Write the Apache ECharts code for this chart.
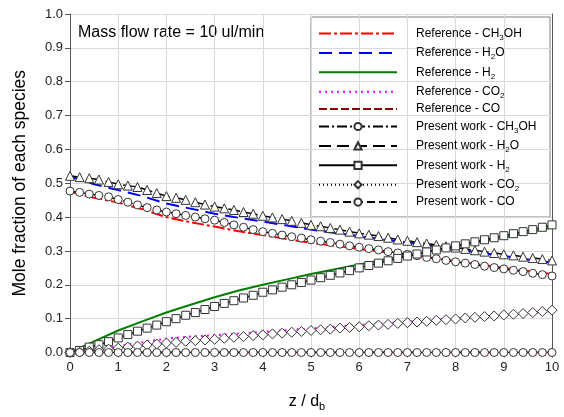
<!DOCTYPE html>
<html>
<head>
<meta charset="utf-8">
<script src="https://cdn.jsdelivr.net/npm/echarts@6/dist/echarts.min.js"></script>
<style>
html,body{margin:0;padding:0;background:#fff;}
#chart{width:564px;height:417px;}
</style>
</head>
<body>
<div id="chart"></div>
<script>
// ---------- data ----------
var X_TICKS = [0,1,2,3,4,5,6,7,8,9,10];
var Y_TICKS = [0.0,0.1,0.2,0.3,0.4,0.5,0.6,0.7,0.8,0.9,1.0];

var X_REF = [0,0.5,1,1.5,2,2.5,3,3.5,4,4.5,5,5.5,6,6.5,7,7.5,8,8.5,9,9.5,10];
var REF_CH3OH = [0.475,0.457,0.443,0.423,0.400,0.385,0.372,0.358,0.347,0.335,0.324,0.315,0.306,0.297,0.289,0.280,0.270,0.260,0.250,0.241,0.232];
var REF_H2O   = [0.520,0.497,0.480,0.462,0.440,0.425,0.410,0.398,0.387,0.375,0.363,0.353,0.344,0.334,0.325,0.315,0.305,0.295,0.285,0.275,0.265];
var REF_H2    = [0.000,0.033,0.065,0.092,0.118,0.141,0.163,0.183,0.200,0.216,0.232,0.246,0.260,0.274,0.287,0.300,0.313,0.327,0.340,0.354,0.369];
var REF_CO2   = [0.000,0.009,0.019,0.030,0.041,0.047,0.051,0.056,0.061,0.066,0.071,0.076,0.081,0.086,0.091,0.096,0.101,0.106,0.111,0.116,0.121];
var REF_CO    = [0,0,0,0,0,0,0,0,0,0,0,0,0,0,0,0,0,0,0,0,0];

var X_PW = [0,0.2,0.4,0.6,0.8,1,1.2,1.4,1.6,1.8,2,2.2,2.4,2.6,2.8,3,3.2,3.4,3.6,3.8,4,4.2,4.4,4.6,4.8,5,5.2,5.4,5.6,5.8,6,6.2,6.4,6.6,6.8,7,7.2,7.4,7.6,7.8,8,8.2,8.4,8.6,8.8,9,9.2,9.4,9.6,9.8,10];
var PW_CH3OH = [0.477,0.473,0.468,0.464,0.460,0.452,0.444,0.436,0.428,0.421,0.415,0.410,0.405,0.400,0.395,0.391,0.384,0.377,0.370,0.363,0.357,0.352,0.347,0.342,0.338,0.333,0.329,0.325,0.320,0.315,0.311,0.307,0.303,0.298,0.294,0.290,0.286,0.281,0.277,0.272,0.268,0.264,0.260,0.255,0.251,0.247,0.243,0.239,0.234,0.230,0.226];
var PW_H2O = [0.522,0.518,0.515,0.511,0.504,0.497,0.493,0.489,0.480,0.471,0.462,0.457,0.451,0.444,0.437,0.431,0.426,0.421,0.415,0.410,0.404,0.399,0.394,0.389,0.383,0.377,0.373,0.368,0.363,0.357,0.352,0.348,0.344,0.339,0.334,0.330,0.326,0.322,0.318,0.314,0.310,0.306,0.302,0.298,0.294,0.290,0.287,0.283,0.279,0.276,0.272];
var PW_H2 = [0.000,0.006,0.016,0.023,0.032,0.043,0.053,0.063,0.072,0.081,0.091,0.100,0.110,0.118,0.127,0.136,0.145,0.153,0.161,0.169,0.178,0.185,0.193,0.200,0.207,0.214,0.221,0.228,0.235,0.242,0.250,0.257,0.264,0.271,0.278,0.285,0.291,0.297,0.303,0.309,0.315,0.321,0.327,0.333,0.339,0.345,0.351,0.357,0.363,0.370,0.377];
var PW_CO2 = [0.000,0.001,0.004,0.008,0.010,0.013,0.016,0.019,0.022,0.025,0.028,0.030,0.033,0.035,0.037,0.039,0.042,0.045,0.047,0.050,0.052,0.055,0.057,0.060,0.062,0.065,0.067,0.069,0.072,0.074,0.076,0.079,0.081,0.083,0.086,0.088,0.090,0.092,0.095,0.097,0.099,0.102,0.104,0.106,0.108,0.111,0.113,0.115,0.118,0.121,0.125];
var PW_CO = [0,0,0,0,0,0,0,0,0,0,0,0,0,0,0,0,0,0,0,0,0,0,0,0,0,0,0,0,0,0,0,0,0,0,0,0,0,0,0,0,0,0,0,0,0,0,0,0,0,0,0];

var SERIES_NAMES = ['Reference - CH3OH','Reference - H2O','Reference - H2','Reference - CO2','Reference - CO',
  'Present work - CH3OH','Present work - H2O','Present work - H2','Present work - CO2','Present work - CO'];
var LEGEND_LABELS = ['{a|Reference - CH}{s|3}{a|OH}','{a|Reference - H}{s|2}{a|O}','{a|Reference - H}{s|2}','{a|Reference - CO}{s|2}','{a|Reference - CO}',
  '{a|Present work - CH}{s|3}{a|OH}','{a|Present work - H}{s|2}{a|O}','{a|Present work - H}{s|2}','{a|Present work - CO}{s|2}','{a|Present work - CO}'];
var ANNOTATION = 'Mass flow rate = 10 ul/min';
var X_NAME = '{a|z / d}{s|b}';
var Y_NAME = 'Mole fraction of each species';

function pairs(xs, ys){ return xs.map(function(x,i){ return [x, ys[i]]; }); }

var FONT = 'Liberation Sans, Arial, sans-serif';

var refStyles = [
  {color:'#ff0000', type:[12,3,3,3]},
  {color:'#0000ff', type:[13,7]},
  {color:'#008000', type:'solid'},
  {color:'#ff00ff', type:[2,4]},
  {color:'#8b0000', type:[8,3]}
];
var refData = [REF_CH3OH, REF_H2O, REF_H2, REF_CO2, REF_CO];
var pwData = [PW_CH3OH, PW_H2O, PW_H2, PW_CO2, PW_CO];
var pwStyles = [
  {type:[10,3,2,3], symbol:'circle', size:8},
  {type:[12,6], symbol:'triangle', size:9},
  {type:'solid', symbol:'rect', size:8},
  {type:[1,3], symbol:'diamond', size:10},
  {type:[8,4], symbol:'circle', size:8}
];

var series = [];
for (var i=0;i<5;i++){
  series.push({
    name: SERIES_NAMES[i], type:'line', symbol:'none', smooth:false,
    data: pairs(X_REF, refData[i]),
    lineStyle:{color:refStyles[i].color, width:2, type:refStyles[i].type},
    itemStyle:{color:refStyles[i].color},
    z:2, animation:false
  });
}
for (var j=0;j<5;j++){
  series.push({
    name: SERIES_NAMES[5+j], type:'line', symbol:pwStyles[j].symbol, symbolSize:pwStyles[j].size, showSymbol:true,
    data: pairs(X_PW, pwData[j]),
    lineStyle:{color:'#000', width:1.5, type:pwStyles[j].type},
    itemStyle:{color:'#fff', borderColor:'#333', borderWidth:1},
    z:3, animation:false
  });
}

var legendData = SERIES_NAMES.map(function(n, k){
  if (k < 5) return {name:n, itemStyle:{opacity:0, color:'rgba(0,0,0,0)', borderWidth:0}};
  return {name:n};
});

var chart = echarts.init(document.getElementById('chart'), null, {renderer:'canvas'});
chart.setOption({
  animation:false,
  backgroundColor:'#fff',
  grid:{left:70, right:12, top:14, bottom:62},
  xAxis:{
    type:'value', min:0, max:10, interval:1,
    name: X_NAME, nameLocation:'middle', nameGap:39,
    nameTextStyle:{padding:[0,8,0,0], rich:{a:{fontSize:16, fontFamily:FONT, color:'#000', lineHeight:20}, s:{fontSize:11, fontFamily:FONT, color:'#000', padding:[10,0,0,0], lineHeight:10}}},
    axisLine:{show:true, onZero:false, lineStyle:{color:'#555', width:1}},
    axisTick:{show:true, inside:false, length:5, lineStyle:{color:'#555'}},
    axisLabel:{fontSize:13, fontFamily:FONT, color:'#222', margin:8,
      formatter:function(v){ return X_TICKS.indexOf(v) >= 0 ? String(v) : ''; }},
    splitLine:{show:true, lineStyle:{color:'#d9d9d9', width:1}}
  },
  yAxis:[{
    type:'value', min:0, max:1, interval:0.1,
    name: Y_NAME, nameLocation:'middle', nameGap:41, nameRotate:90,
    nameTextStyle:{fontSize:17.5, fontFamily:FONT, color:'#000'},
    axisLine:{show:true, lineStyle:{color:'#555', width:1}},
    axisTick:{show:true, inside:false, length:5, lineStyle:{color:'#555'}},
    axisLabel:{fontSize:13, fontFamily:FONT, color:'#222', margin:7,
      formatter:function(v){ return v.toFixed(1); }},
    splitLine:{show:true, lineStyle:{color:'#d9d9d9', width:1}}
  },{
    type:'value', min:0, max:1, interval:0.1, position:'right',
    axisLine:{show:true, lineStyle:{color:'#555', width:1}},
    axisTick:{show:false}, axisLabel:{show:false}, splitLine:{show:false}
  }],
  legend:{
    orient:'vertical', left:318, top:25.5, padding:0,
    itemWidth:78, itemHeight:9, itemGap:3.4,
    data: legendData,
    formatter:function(name){ return LEGEND_LABELS[SERIES_NAMES.indexOf(name)]; },
    textStyle:{padding:[0,0,0,14], rich:{
      a:{fontSize:12, fontFamily:FONT, color:'#000', lineHeight:16},
      s:{fontSize:8, fontFamily:FONT, color:'#000', padding:[8,0,0,0], lineHeight:8}
    }}
  },
  graphic:[
    {type:'rect', z:-1, left:310.5, top:16.5, shape:{x:0,y:0,width:239,height:200}, style:{fill:'#fff', stroke:'#808080', lineWidth:1}, silent:true},
    {type:'text', left:78, top:25, style:{text:ANNOTATION, font:'16px '+FONT, fill:'#000'}}
  ],
  series: series
});
</script>
</body>
</html>
